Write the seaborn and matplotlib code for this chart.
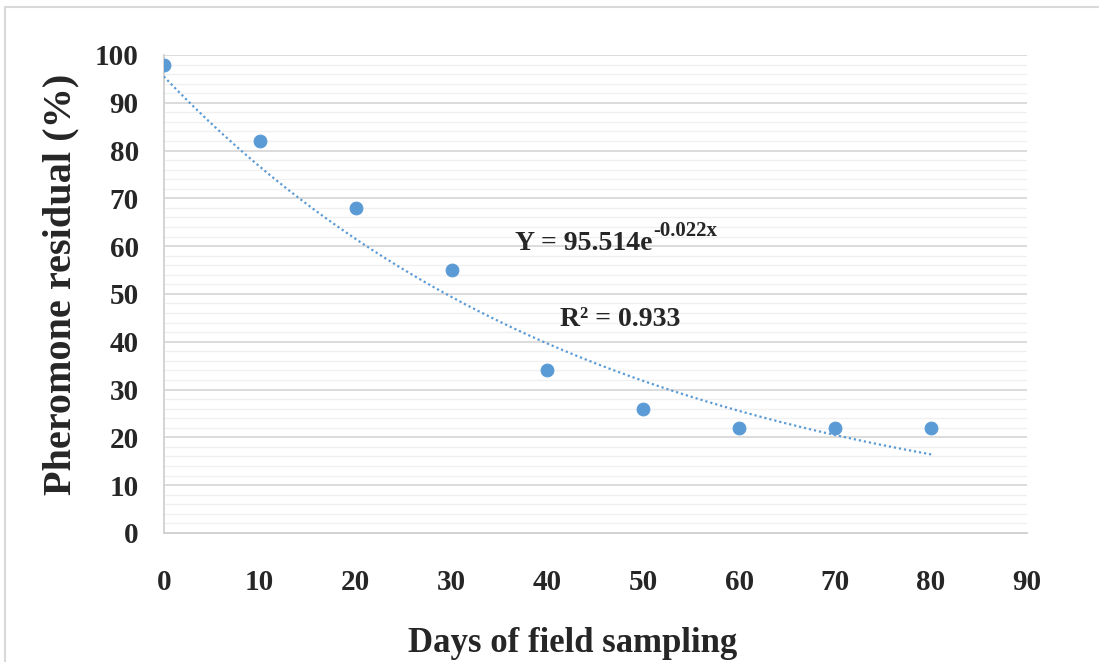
import numpy as np
import pandas as pd
import seaborn as sns
import matplotlib.pyplot as plt
from matplotlib.patches import Rectangle

days = [0, 10, 20, 30, 40, 50, 60, 70, 80]
residual = [98, 82, 68, 55, 34, 26, 22, 22, 22]
fit_a = 95.514
fit_b = -0.022
r2 = 0.933

sns.set_style("white")
plt.rcParams['font.family'] = ['Liberation Serif', 'DejaVu Serif']
plt.rcParams['font.weight'] = 'bold'

fig = plt.figure(figsize=(10.99, 6.62), dpi=100)
ax = fig.add_axes([0.149, 0.195, 0.7855, 0.722])

df = pd.DataFrame({'day': days, 'res': residual})
xs = np.linspace(0, 80, 200)
trend = pd.DataFrame({'day': xs, 'res': fit_a * np.exp(fit_b * xs)})

blue = '#5B9BD5'
sns.lineplot(data=trend, x='day', y='res', ax=ax, color=blue, lw=1.6,
             linestyle=(0, (1, 1.3)), zorder=3)
sns.scatterplot(data=df, x='day', y='res', ax=ax, color=blue, s=85,
                edgecolor=blue, zorder=4)

ax.set_xlim(0, 90)
ax.set_ylim(0, 100)
ax.set_xticks(range(0, 91, 10))
ax.set_yticks(range(0, 101, 10))
ax.set_yticks(range(0, 101, 2), minor=True)
ax.grid(axis='y', which='major', color='#d9d9d9', lw=1.3)
ax.grid(axis='y', which='minor', color='#f0f0f0', lw=1.0)
ax.set_axisbelow(True)
for s in ['top', 'right']:
    ax.spines[s].set_visible(False)
ax.spines['left'].set_color('#d0d0d0')
ax.spines['bottom'].set_color('#d0d0d0')
ax.spines['left'].set_linewidth(1.3)
ax.spines['bottom'].set_linewidth(1.3)
ax.tick_params(axis='x', which='major', length=10, color='#bfbfbf', width=1.2,
               direction='out', labelsize=21, pad=16)
ax.tick_params(axis='y', which='both', length=0, labelsize=21, pad=18)
ax.set_xlabel('Days of field sampling', fontsize=25, fontweight='bold')
ax.set_ylabel('Pheromone residual (%)', fontsize=29, fontweight='bold')
ax.xaxis.set_label_coords(0.474, -0.196)
ax.yaxis.set_label_coords(-0.098, 0.519)
for lab in ax.get_xticklabels() + ax.get_yticklabels():
    lab.set_fontweight('bold')

eq = ax.text(36.6, 60.5, 'Y = 95.514e', fontsize=20, fontweight='bold', va='center')
ax.annotate('-0.022x', xy=(1, 1), xycoords=eq, xytext=(1, -7),
            textcoords='offset points', fontsize=15, fontweight='bold',
            va='bottom', ha='left')
ax.text(41.3, 44.6, 'R² = 0.933', fontsize=20, fontweight='bold', va='center')

fig.patches.append(Rectangle((0.005, -0.05), 1.1, 1.04, transform=fig.transFigure,
                             fill=False, edgecolor='#d9d9d9', lw=1.5))

fig.savefig('out.png', dpi=100)
